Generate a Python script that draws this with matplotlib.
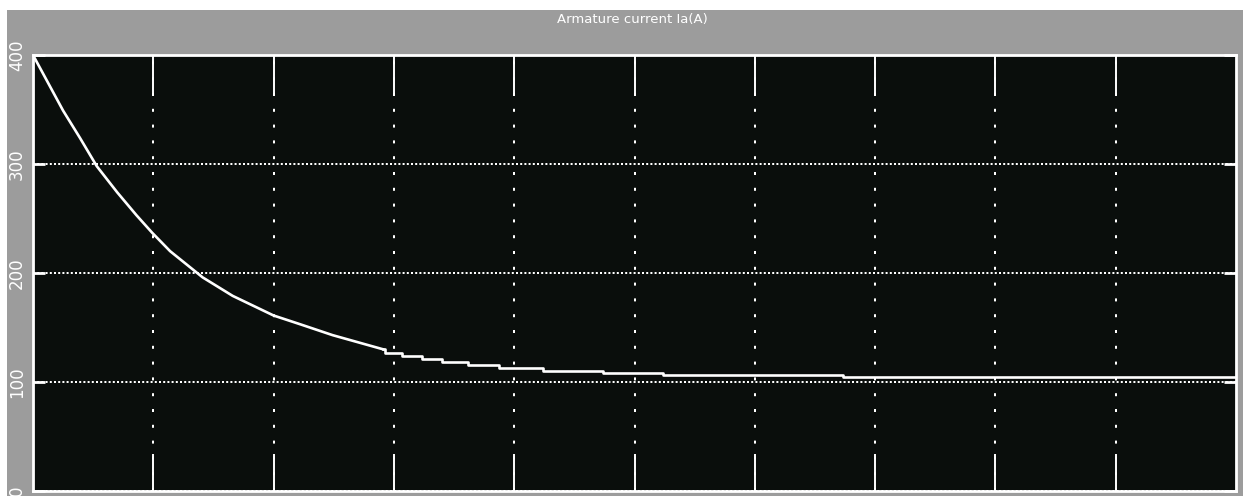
import matplotlib
matplotlib.use("Agg")
import matplotlib.pyplot as plt
from matplotlib.patches import Rectangle

# Armature current read along the time axis (time in scope divisions)
t_ramp = [0.0, 0.25, 0.39, 0.53, 0.70, 0.86, 0.99, 1.14, 1.41, 1.66, 2.00, 2.22, 2.49, 2.91]
ia_ramp = [400, 349, 324, 298, 274, 253, 237, 220, 196, 179, 161, 153, 143, 130]

# Quantised tail of the response (held values, step starts)
t_steps = [2.91, 2.93, 3.07, 3.23, 3.40, 3.62, 3.87, 4.24, 4.74, 5.24, 6.73, 10.0]
ia_steps = [130, 127, 124, 121, 118.5, 116, 113, 110.5, 108, 106, 105, 105]

y_ticks = [0, 100, 200, 300, 400]
y_tick_labels = ["0", "100", "200", "300", "400"]
x_ticks = [1, 2, 3, 4, 5, 6, 7, 8, 9]
title = "Armature current Ia(A)"

narrow = ["Liberation Sans Narrow", "DejaVu Sans Condensed", "DejaVu Sans"]

W, H = 1243, 496
fig = plt.figure(figsize=(W / 100, H / 100), dpi=100, facecolor="white")

# grey scope panel, kept behind the axes
fig.patches.append(Rectangle((7 / W, 0), 1 - 7 / W, (H - 10) / H,
                             transform=fig.transFigure, facecolor="#9c9c9c",
                             edgecolor="none", zorder=-5))

left, right, top, bottom = 33, 1236, 55, 491
ax = fig.add_axes([left / W, 1 - bottom / H, (right - left) / W, (bottom - top) / H])
ax.set_zorder(1)
ax.set_facecolor("#0a0e0c")

ax.plot(t_ramp, ia_ramp, color="white", lw=1.9, solid_joinstyle="miter", zorder=3)
ax.plot(t_steps, ia_steps, color="white", lw=1.9, drawstyle="steps-post", zorder=3)

ax.set_xlim(0, 10)
ax.set_ylim(0, 400)

ax.set_xticks(x_ticks)
ax.set_xticklabels([])
ax.set_yticks(y_ticks)
ax.set_yticklabels(y_tick_labels)

ax.tick_params(axis="x", direction="in", length=27, width=1.4, color="white",
               top=True, bottom=True, labelbottom=False)
ax.tick_params(axis="y", direction="in", length=8.6, width=2.0, color="white",
               left=True, right=True, labelleft=True, labelright=False,
               labelrotation=90, pad=5, labelcolor="white", labelsize=12)
for lab in ax.get_yticklabels():
    lab.set_fontfamily(narrow)
    lab.set_va("center")

ax.grid(True, axis="y", color="white", linewidth=1.44, linestyle=(0, (1.0, 1.1)))
ax.grid(True, axis="x", color="white", linewidth=1.44, linestyle=(0, (1.5, 6.4)))

for sp in ax.spines.values():
    sp.set_color("white")
    sp.set_linewidth(2.0)

fig.text(632 / W, 1 - 20 / H, title, color="white", ha="center", va="center",
         fontsize=9.5, family=narrow)

fig.savefig("out.png", dpi=100, facecolor=fig.get_facecolor())
